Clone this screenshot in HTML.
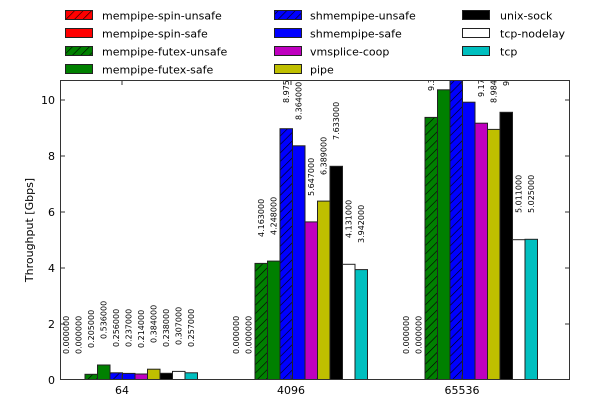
<!DOCTYPE html>
<html><head><meta charset="utf-8"><style>
body{margin:0;background:#fff}
svg{display:block;font-family:"DejaVu Sans","Liberation Sans",sans-serif}
.l{font-size:8px;fill:#000}
.lg{font-size:11px;fill:#000}
</style></head><body>
<svg width="600" height="400" viewBox="0 0 600 400" xmlns="http://www.w3.org/2000/svg">
<defs>
<pattern id="hr" width="6" height="6" patternUnits="userSpaceOnUse" patternTransform="rotate(45)"><rect width="6" height="6" fill="#f00"/><line x1="0" y1="0" x2="0" y2="6" stroke="#000" stroke-width="1.2"/></pattern>
<pattern id="hg" width="6" height="6" patternUnits="userSpaceOnUse" patternTransform="rotate(45)"><rect width="6" height="6" fill="#008000"/><line x1="0" y1="0" x2="0" y2="6" stroke="#000" stroke-width="1.2"/></pattern>
<pattern id="hb" width="6" height="6" patternUnits="userSpaceOnUse" patternTransform="rotate(45)"><rect width="6" height="6" fill="#00f"/><line x1="0" y1="0" x2="0" y2="6" stroke="#000" stroke-width="1.2"/></pattern>
<clipPath id="pc"><rect x="60" y="80" width="510" height="300"/></clipPath>
</defs>

<!-- legend -->
<g stroke="#222" stroke-width="1">
<rect x="65.5" y="10.5" width="27" height="9" fill="url(#hr)"/>
<rect x="65.5" y="28.5" width="27" height="9" fill="#f00"/>
<rect x="65.5" y="46.5" width="27" height="9" fill="url(#hg)"/>
<rect x="65.5" y="64.5" width="27" height="9" fill="#008000"/>
<rect x="274.5" y="10.5" width="27" height="9" fill="url(#hb)"/>
<rect x="274.5" y="28.5" width="27" height="9" fill="#00f"/>
<rect x="274.5" y="46.5" width="27" height="9" fill="#bf00bf"/>
<rect x="274.5" y="64.5" width="27" height="9" fill="#bfbf00"/>
<rect x="462.5" y="10.5" width="27" height="9" fill="#000"/>
<rect x="462.5" y="28.5" width="27" height="9" fill="#fff"/>
<rect x="462.5" y="46.5" width="27" height="9" fill="#00bfbf"/>
</g>
<g class="lg">
<text x="102" y="19.5">mempipe-spin-unsafe</text>
<text x="102" y="37.5">mempipe-spin-safe</text>
<text x="102" y="55.5">mempipe-futex-unsafe</text>
<text x="102" y="73.5">mempipe-futex-safe</text>
<text x="310" y="19.5">shmempipe-unsafe</text>
<text x="310" y="37.5">shmempipe-safe</text>
<text x="310" y="55.5">vmsplice-coop</text>
<text x="310" y="73.5">pipe</text>
<text x="500" y="19.5">unix-sock</text>
<text x="500" y="37.5">tcp-nodelay</text>
<text x="500" y="55.5">tcp</text>
</g>

<g clip-path="url(#pc)" stroke="#222" stroke-width="1">
<!-- 64 -->
<rect x="85" y="374.3" width="12.5" height="5.7" fill="url(#hg)"/>
<rect x="97.5" y="365" width="12.5" height="15" fill="#008000"/>
<rect x="110" y="372.8" width="12.5" height="7.2" fill="url(#hb)"/>
<rect x="122.5" y="373.4" width="12.5" height="6.6" fill="#00f"/>
<rect x="135" y="374" width="12.5" height="6" fill="#bf00bf"/>
<rect x="147.5" y="369.2" width="12.5" height="10.8" fill="#bfbf00"/>
<rect x="160" y="373.3" width="12.5" height="6.7" fill="#000"/>
<rect x="172.5" y="371.4" width="12.5" height="8.6" fill="#fff"/>
<rect x="185" y="372.8" width="12.5" height="7.2" fill="#00bfbf"/>
<!-- 4096 -->
<rect x="255" y="263.4" width="12.5" height="116.6" fill="url(#hg)"/>
<rect x="267.5" y="261.1" width="12.5" height="118.9" fill="#008000"/>
<rect x="280" y="128.7" width="12.5" height="251.3" fill="url(#hb)"/>
<rect x="292.5" y="145.8" width="12.5" height="234.2" fill="#00f"/>
<rect x="305" y="221.9" width="12.5" height="158.1" fill="#bf00bf"/>
<rect x="317.5" y="201.1" width="12.5" height="178.9" fill="#bfbf00"/>
<rect x="330" y="166.3" width="12.5" height="213.7" fill="#000"/>
<rect x="342.5" y="264.3" width="12.5" height="115.7" fill="#fff"/>
<rect x="355" y="269.6" width="12.5" height="110.4" fill="#00bfbf"/>
<!-- 65536 -->
<rect x="425" y="117.4" width="12.5" height="262.6" fill="url(#hg)"/>
<rect x="437.5" y="89.8" width="12.5" height="290.2" fill="#008000"/>
<rect x="450" y="78" width="12.5" height="302" fill="url(#hb)"/>
<rect x="462.5" y="102.2" width="12.5" height="277.8" fill="#00f"/>
<rect x="475" y="123.2" width="12.5" height="256.8" fill="#bf00bf"/>
<rect x="487.5" y="129.4" width="12.5" height="250.6" fill="#bfbf00"/>
<rect x="500" y="112.3" width="12.5" height="267.7" fill="#000"/>
<rect x="512.5" y="239.7" width="12.5" height="140.3" fill="#fff"/>
<rect x="525" y="239.3" width="12.5" height="140.7" fill="#00bfbf"/>
</g>

<g clip-path="url(#pc)" class="l">
<text transform="translate(69,354) rotate(-90)">0.000000</text>
<text transform="translate(81.5,354) rotate(-90)">0.000000</text>
<text transform="translate(94,348) rotate(-90)">0.205000</text>
<text transform="translate(106.5,339) rotate(-90)">0.536000</text>
<text transform="translate(119,347) rotate(-90)">0.256000</text>
<text transform="translate(131.5,347) rotate(-90)">0.237000</text>
<text transform="translate(144,348) rotate(-90)">0.214000</text>
<text transform="translate(156.5,343) rotate(-90)">0.384000</text>
<text transform="translate(169,347) rotate(-90)">0.238000</text>
<text transform="translate(181.5,345) rotate(-90)">0.307000</text>
<text transform="translate(194,347) rotate(-90)">0.257000</text>

<text transform="translate(239,354) rotate(-90)">0.000000</text>
<text transform="translate(251.5,354) rotate(-90)">0.000000</text>
<text transform="translate(264,237) rotate(-90)">4.163000</text>
<text transform="translate(276.5,235) rotate(-90)">4.248000</text>
<text transform="translate(289,103) rotate(-90)">8.975000</text>
<text transform="translate(301.5,120) rotate(-90)">8.364000</text>
<text transform="translate(314,196) rotate(-90)">5.647000</text>
<text transform="translate(326.5,175) rotate(-90)">6.389000</text>
<text transform="translate(339,140) rotate(-90)">7.633000</text>
<text transform="translate(351.5,238) rotate(-90)">4.131000</text>
<text transform="translate(364,243) rotate(-90)">3.942000</text>

<text transform="translate(409,354) rotate(-90)">0.000000</text>
<text transform="translate(421.5,354) rotate(-90)">0.000000</text>
<text transform="translate(434,91) rotate(-90)">9.380000</text>
<text transform="translate(446.5,63) rotate(-90)">10.400000</text>
<text transform="translate(459,50) rotate(-90)">10.800000</text>
<text transform="translate(471.5,76) rotate(-90)">9.920000</text>
<text transform="translate(484,97) rotate(-90)">9.170000</text>
<text transform="translate(496.5,103) rotate(-90)">8.984000</text>
<text transform="translate(509,86) rotate(-90)">9.560000</text>
<text transform="translate(521.5,213) rotate(-90)">5.011000</text>
<text transform="translate(534,213) rotate(-90)">5.025000</text>
</g>

<!-- axes -->
<rect x="60.5" y="80.5" width="509" height="299" fill="none" stroke="#333" stroke-width="1"/>
<g stroke="#333" stroke-width="1">
<line x1="60" y1="324" x2="65" y2="324"/><line x1="565" y1="324" x2="570" y2="324"/>
<line x1="60" y1="268" x2="65" y2="268"/><line x1="565" y1="268" x2="570" y2="268"/>
<line x1="60" y1="212" x2="65" y2="212"/><line x1="565" y1="212" x2="570" y2="212"/>
<line x1="60" y1="156" x2="65" y2="156"/><line x1="565" y1="156" x2="570" y2="156"/>
<line x1="60" y1="100" x2="65" y2="100"/><line x1="565" y1="100" x2="570" y2="100"/>
<line x1="122" y1="80" x2="122" y2="85"/><line x1="122" y1="375" x2="122" y2="380"/>
<line x1="291" y1="80" x2="291" y2="85"/><line x1="291" y1="375" x2="291" y2="380"/>
<line x1="462" y1="80" x2="462" y2="85"/><line x1="462" y1="375" x2="462" y2="380"/>
</g>
<g class="lg" text-anchor="end">
<text x="55" y="384">0</text>
<text x="55" y="328">2</text>
<text x="55" y="272">4</text>
<text x="55" y="216">6</text>
<text x="55" y="160">8</text>
<text x="55" y="104">10</text>
</g>
<g class="lg" text-anchor="middle">
<text x="122" y="394">64</text>
<text x="291" y="394">4096</text>
<text x="462" y="394">65536</text>
<text transform="translate(33,230) rotate(-90)">Throughput [Gbps]</text>
</g>
</svg>
</body></html>
